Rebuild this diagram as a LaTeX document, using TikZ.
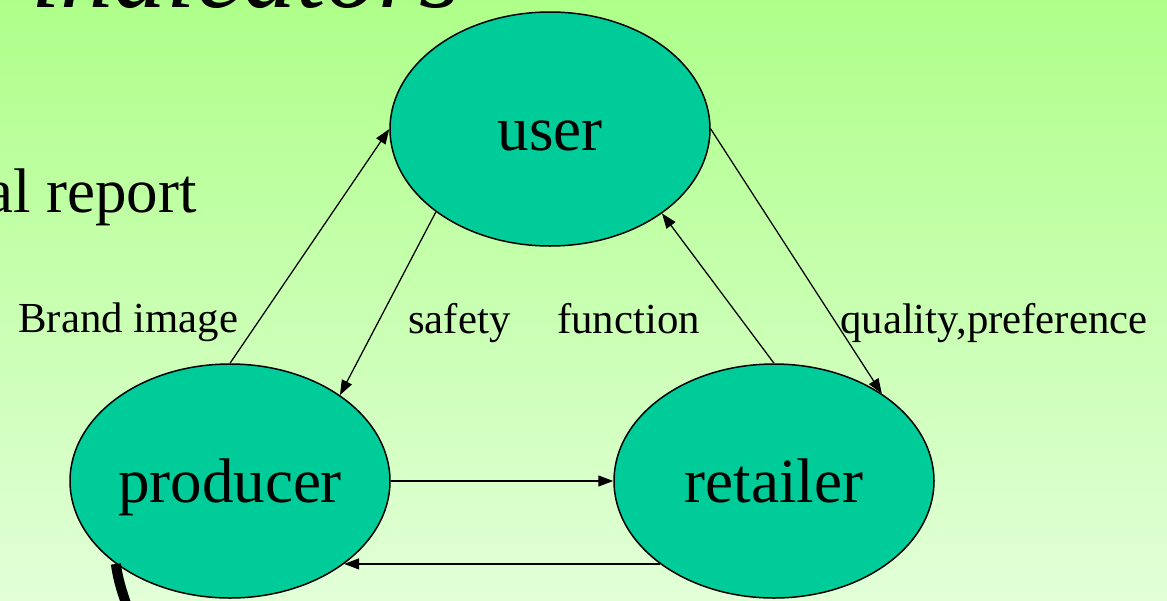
\documentclass[tikz,border=0pt]{standalone}
\usepackage{fontspec}
\setmainfont{Liberation Serif}
\usetikzlibrary{shapes.geometric,arrows.meta}
\definecolor{bgtop}{RGB}{174,255,137}
\definecolor{bgbot}{RGB}{226,255,216}
\definecolor{nodefill}{RGB}{0,204,153}
\begin{document}
\begin{tikzpicture}[x=1pt,y=-1pt,
  actor/.style={ellipse, draw=black, line width=1.5pt, fill=nodefill,
    minimum width=320pt, minimum height=234pt, inner sep=0pt,
    text height=44pt, text depth=2pt,
    font=\fontsize{63}{70}\selectfont},
  flow/.style={-{Triangle[length=15pt,width=11pt]}, line width=1.25pt},
  lbl/.style={font=\fontsize{42.8}{48}\selectfont, anchor=base west, inner sep=0pt},
  slide/.style={font=\fontsize{63}{70}\selectfont, anchor=base west, inner sep=0pt}]

% page and background
\useasboundingbox (0,0) rectangle (1167,600);
\shade[top color=bgtop, bottom color=bgbot] (0,0) rectangle (1167,600);

% slide text behind the diagram
\node[slide, font=\fontsize{106}{112}\selectfont\itshape] (title) at (31,7) {indicators};
\node[slide] (report) at (-15,212) {al report};

% actors
\node[actor] (user)     at (550,129) {user};
\node[actor] (producer) at (230,481) {producer};
\node[actor] (retailer) at (774,481) {retailer};

% flows
\draw[flow] (producer.north) -- (user.west);
\draw[flow] (user.216.6) -- (producer.38);
\draw[flow] (retailer.north) -- (user.323.9);
\draw[flow] (user.east) -- (retailer.39);
\draw[flow] (producer.east) -- (retailer.west);
\draw[flow] (retailer.216.4) -- (producer.-36.4);

% heavy stroke leaving the producer
\draw[line width=10pt] (producer.216.2) .. controls (118,580) and (122,592) .. (129,612);

% labels
\node[lbl] (brand)    at (18,332)  {Brand image};
\node[lbl] (safety)   at (408,333) {safety};
\node[lbl] (function) at (557,333) {function};
\node[lbl] (quality)  at (840,333) {quality,preference};
\end{tikzpicture}
\end{document}
